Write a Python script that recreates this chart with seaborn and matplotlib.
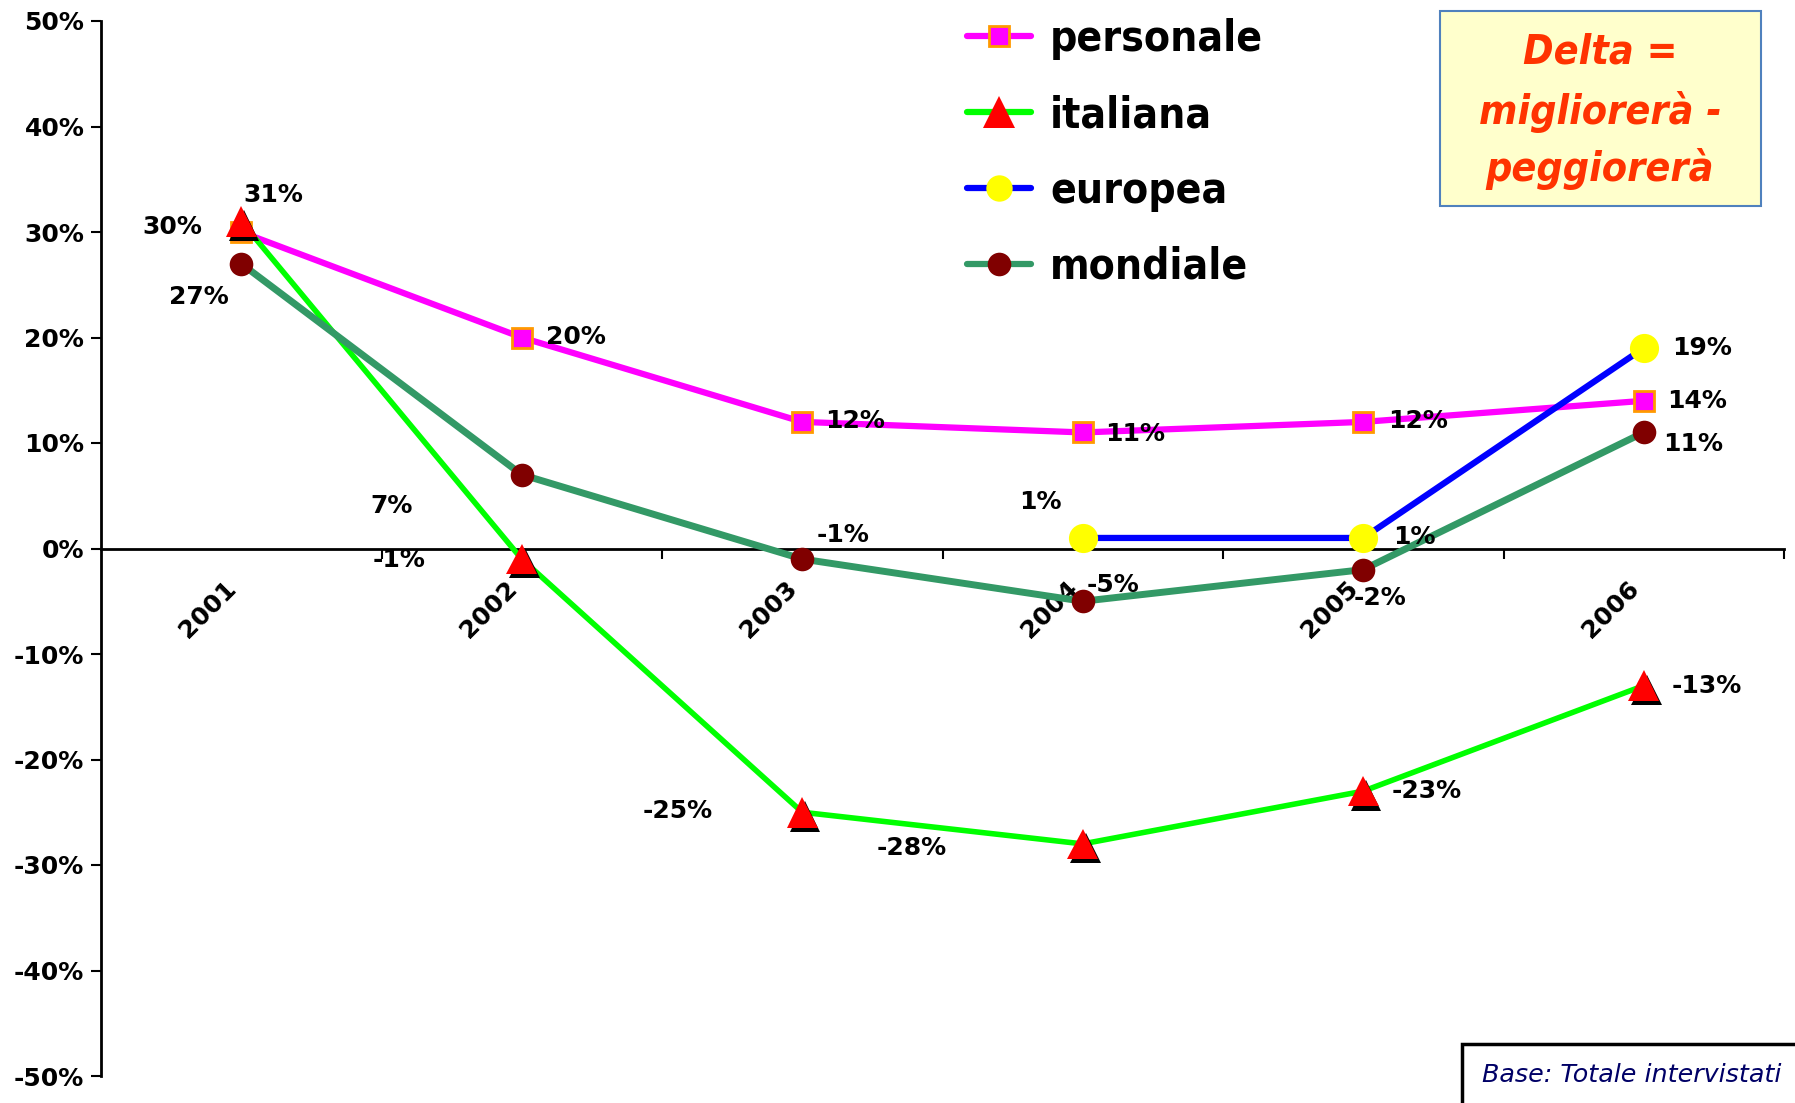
import numpy as np
import matplotlib
matplotlib.use('Agg')
import matplotlib.pyplot as plt
import matplotlib.patheffects as pe
import matplotlib.transforms as mtransforms
from matplotlib.lines import Line2D
from matplotlib.patches import Rectangle
from matplotlib.font_manager import FontProperties
import seaborn as sns

# ---------------- data ----------------
years = ['2001', '2002', '2003', '2004', '2005', '2006']
personale = [30, 20, 12, 11, 12, 14]
italiana = [31, -1, -25, -28, -23, -13]
europea = [np.nan, np.nan, np.nan, 1, 1, 19]
mondiale = [27, 7, -1, -5, -2, 11]
y_ticks = [-50, -40, -30, -20, -10, 0, 10, 20, 30, 40, 50]
series_names = ['personale', 'italiana', 'europea', 'mondiale']
box_lines = ['Delta =', 'migliorerà -', 'peggiorerà']
base_text = 'Base: Totale intervistati'

# ---------------- layout (label offsets, px in reduced image) ----------------
label_offsets = {
    'personale': [(-60, -4), (47, 0), (46, -1), (46, 1), (48, -1), (47, 0)],
    'italiana': [(28, -23), (-107, 1), (-109, -1), (-149, 4), (55, 0), (55, 0)],
    'europea': [None, None, None, (-37, -31), (45, -1), (51, 0)],
    'mondiale': [(-37, 29), (-114, 27), (36, -21), (26, -14), (15, 25), (43, 10)],
}
S = 1795 / 1568.0

sns.set_theme(style='white')
plt.rcParams['font.family'] = ['DejaVu Sans']
plt.rcParams['text.color'] = 'black'
plt.rcParams['xtick.color'] = 'black'
plt.rcParams['ytick.color'] = 'black'
plt.rcParams['axes.labelcolor'] = 'black'

W, H = 1795, 1103
fig = plt.figure(figsize=(W / 100, H / 100), dpi=100)
ax = fig.add_axes([101 / W, 1 - 1076 / H, (1784 - 101) / W, (1076 - 21) / H])

pos = np.arange(len(years))

C_PERS = '#FF00FF'
C_ITA = '#00FF00'
C_EUR = '#0000FF'
C_MON = '#339966'

sns.lineplot(x=pos, y=personale, ax=ax, color=C_PERS, lw=4.5, marker='s',
             markersize=15, markerfacecolor=C_PERS, markeredgecolor='#FF9900',
             markeredgewidth=2, zorder=3)
sns.lineplot(x=pos, y=italiana, ax=ax, color=C_ITA, lw=4, zorder=3)
sns.lineplot(x=pos, y=italiana, ax=ax, color='red', linestyle='none', marker='^',
             markersize=22, markerfacecolor='red', markeredgecolor='red',
             markeredgewidth=0, zorder=4,
             path_effects=[pe.withSimplePatchShadow(offset=(2, -3), shadow_rgbFace='black', alpha=1.0)])
sns.lineplot(x=pos, y=europea, ax=ax, color=C_EUR, lw=4.5, marker='o',
             markersize=21, markerfacecolor='#FFFF00', markeredgecolor='#FFFF00',
             markeredgewidth=0, zorder=5)
sns.lineplot(x=pos, y=mondiale, ax=ax, color=C_MON, lw=5, marker='o',
             markersize=17, markerfacecolor='#800000', markeredgecolor='#800000',
             markeredgewidth=0, zorder=5)

# data labels
for name, vals in zip(series_names, [personale, italiana, europea, mondiale]):
    for i, v in enumerate(vals):
        off = label_offsets[name][i]
        if off is None or np.isnan(v):
            continue
        ax.annotate(f'{int(v)}%', xy=(pos[i], v), xytext=(off[0] * S, -off[1] * S),
                    textcoords='offset pixels', ha='center', va='center',
                    fontsize=18, fontweight='bold', color='black', zorder=6)

ax.set_xlim(-0.5, len(years) - 0.5)
ax.set_ylim(-50, 50)
ax.set_yticks(y_ticks)
ax.set_yticklabels([f'{t}%' for t in y_ticks])
ax.set_xticks(pos)
ax.set_xticklabels(years)
ax.set_xticks(pos + 0.5, minor=True)
ax.tick_params(axis='x', which='major', length=0, pad=20, bottom=True,
               labelsize=18, labelrotation=45, labelcolor='black')
ax.tick_params(axis='x', which='minor', length=7, width=1.5, direction='out',
               color='black', bottom=True)
ax.tick_params(axis='y', which='major', length=7, width=1.5, direction='out',
               color='black', left=True, pad=5, labelsize=18, labelcolor='black')
ax.set_xlabel('')
ax.set_ylabel('')

for s in ['top', 'right']:
    ax.spines[s].set_visible(False)
ax.spines['left'].set_color('black')
ax.spines['left'].set_linewidth(2)
ax.spines['bottom'].set_position(('data', 0))
ax.spines['bottom'].set_color('black')
ax.spines['bottom'].set_linewidth(2)

# legend
handles = [
    Line2D([], [], color=C_PERS, lw=4.5, marker='s', ms=15, mfc=C_PERS, mec='#FF9900', mew=2),
    Line2D([], [], color=C_ITA, lw=4.5, marker='^', ms=23, mfc='red', mec='red', mew=0),
    Line2D([], [], color=C_EUR, lw=4.5, marker='o', ms=19, mfc='#FFFF00', mec='#FFFF00', mew=0),
    Line2D([], [], color=C_MON, lw=4.5, marker='o', ms=17, mfc='#800000', mec='#800000', mew=0),
]
leg_font = FontProperties(family=['Liberation Sans Narrow', 'DejaVu Sans'], weight='bold',
                          stretch='condensed', size=30.5)
fig.legend(handles, series_names, loc='upper left',
           bbox_to_anchor=(845 * S / W, 1 - 16 * S / H), frameon=False, prop=leg_font,
           handlelength=1.5, handletextpad=0.45, labelspacing=0.8,
           borderpad=0, borderaxespad=0, labelcolor='black')

# Delta box
fig.patches.append(Rectangle((1440 / W, 1 - 206 / H), 321 / W, 195 / H,
                             transform=fig.transFigure, facecolor='#FFFFCC',
                             edgecolor='#4F81BD', lw=1.5, zorder=1))
box_font = FontProperties(family=['Liberation Sans Narrow', 'DejaVu Sans'], weight='bold',
                          style='italic', stretch='condensed', size=29.5)
for txt, yy in zip(box_lines, [46, 98, 148]):
    fig.text(1600 / W, 1 - yy * S / H, txt, ha='center', va='center',
             color='#FF3300', fontproperties=box_font, zorder=2)

# Base box
fig.patches.append(Rectangle((1462 / W, -0.05), 0.3, 0.05 + 1 - 1044 / H,
                             transform=fig.transFigure, facecolor='white',
                             edgecolor='black', lw=2.5, zorder=1))
fig.text(1482 / W, 1 - 1075 / H, base_text, ha='left', va='center', color='#000066',
         fontsize=18.3, style='italic', zorder=2)

# final tick label styling
shift = mtransforms.ScaledTranslation(-17 / 100, 0, fig.dpi_scale_trans)
for lab in ax.get_yticklabels():
    lab.set_fontweight('bold')
for lab in ax.get_xticklabels():
    lab.set_fontweight('bold')
    lab.set_ha('right')
    lab.set_va('top')
    lab.set_rotation_mode('anchor')
    lab.set_transform(lab.get_transform() + shift)

fig.savefig('out.png', dpi=100)
